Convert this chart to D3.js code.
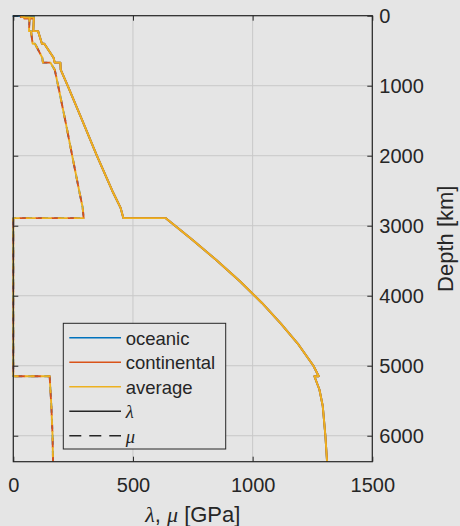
<!DOCTYPE html>
<html>
<head>
<meta charset="utf-8">
<script src="https://cdn.jsdelivr.net/npm/d3@7"></script>
<style>
  html, body { margin: 0; padding: 0; background: #e5e5e5; }
  svg { display: block; }
  text { font-family: "Liberation Sans", Arial, Helvetica, sans-serif; fill: #262626; }
  .greek { font-family: "Liberation Serif", "Times New Roman", serif; font-style: italic; }
</style>
</head>
<body>
<svg id="chart" width="460" height="526"></svg>
<script>
// Lamé parameters λ and μ versus depth for three crustal models.

const xTicks = [0, 500, 1000, 1500];
const yTicks = [0, 1000, 2000, 3000, 4000, 5000, 6000];

const modelNames = ["oceanic", "continental", "average"];
const modelColors = ["#0072BD", "#D95319", "#EDB120"];

// Crust and lithosphere top, per model: depth [km], λ [GPa], μ [GPa]
const oceanicDepth  = [0,   3,   3,    10,   10];
const oceanicLambda = [2.2, 2.2, 43.1, 43.1, 86.0];
const oceanicMu     = [0,   0,   39.7, 39.7, 68.2];

const continentalDepth  = [0,    20,   20,   40,   40];
const continentalLambda = [31.0, 31.0, 45.9, 45.9, 86.0];
const continentalMu     = [33.1, 33.1, 44.1, 44.1, 68.2];

const averageDepth  = [0,    15,   15,   24.4, 24.4];
const averageLambda = [34.2, 34.2, 45.9, 45.9, 86.0];
const averageMu     = [26.6, 26.6, 44.1, 44.1, 68.2];

// Mantle and core, shared by all models
const deepDepth  = [80,   220,  220,   400,   400,   600,   670,   670,   771,   1000,  1500,  2000,  2500,  2741,  2891,  2891, 3200, 3490, 3800, 4100, 4400, 4700, 5000, 5150, 5150, 5340, 5576, 6000, 6371];
const deepLambda = [85.2, 83.3, 103.5, 119.8, 129.5, 168.3, 173.0, 196.7, 198.0, 227.1, 288.5, 349.1, 413.4, 447.9, 459.8, 636,  748,  848,  949,  1038, 1118, 1192, 1254, 1276, 1258, 1279, 1293, 1304, 1311];
const deepMu     = [67.4, 65.6, 74.1,  80.6,  90.6,  121.0, 123.9, 154.8, 173.1, 187.4, 217.4, 246.1, 275.2, 289.9, 293.8, 0,    0,    0,    0,    0,    0,    0,    0,    0,    152,  155,  159,  164,  166];

const crustDepth  = [oceanicDepth, continentalDepth, averageDepth];
const crustLambda = [oceanicLambda, continentalLambda, averageLambda];
const crustMu     = [oceanicMu, continentalMu, averageMu];

const models = modelNames.map((name, i) => {
  const depth = crustDepth[i].concat(deepDepth);
  const lam = crustLambda[i].concat(deepLambda);
  const mu = crustMu[i].concat(deepMu);
  return {
    name, color: modelColors[i],
    lambda: depth.map((d, k) => ({ depth: d, v: lam[k] })),
    mu: depth.map((d, k) => ({ depth: d, v: mu[k] }))
  };
});

const svg = d3.select("#chart");
const plot = { left: 13.3, right: 372.3, top: 15.7, bottom: 461.7 };
const x = d3.scaleLinear().domain([0, 1500]).range([plot.left, plot.right]);
const y = d3.scaleLinear().domain([0, 6371]).range([plot.top, plot.bottom]);
const ink = "#262626";
const fmt = d3.format("d");

// Axes background
svg.append("rect")
  .attr("x", plot.left).attr("y", plot.top)
  .attr("width", plot.right - plot.left).attr("height", plot.bottom - plot.top)
  .attr("fill", "#e5e5e5");

// Grid
const grid = svg.append("g").attr("stroke", "#c8c8c8").attr("stroke-width", 1);
grid.selectAll(".gx").data(xTicks).join("line")
  .attr("x1", d => x(d)).attr("x2", d => x(d))
  .attr("y1", plot.top).attr("y2", plot.bottom);
grid.selectAll(".gy").data(yTicks).join("line")
  .attr("x1", plot.left).attr("x2", plot.right)
  .attr("y1", d => y(d)).attr("y2", d => y(d));

// Curves
const line = d3.line().x(d => x(d.v)).y(d => y(d.depth));
const curves = svg.append("g").attr("fill", "none").attr("stroke-width", 1.9)
  .attr("stroke-linejoin", "round");
models.forEach((m, i) => {
  curves.append("path").datum(m.lambda)
    .attr("d", line).attr("stroke", m.color);
  curves.append("path").datum(m.mu)
    .attr("d", line).attr("stroke", m.color)
    .attr("stroke-dasharray", "10,6")
    .attr("stroke-dashoffset", i * 5);
});

// Axes with inward ticks
const bottomAxis = d3.axisBottom(x).tickValues(xTicks).tickFormat(fmt).tickSizeInner(-5).tickSizeOuter(0).tickPadding(16.5);
const rightAxis = d3.axisRight(y).tickValues(yTicks).tickFormat(fmt).tickSizeInner(-5).tickSizeOuter(0).tickPadding(7);
const topAxis = d3.axisTop(x).tickValues(xTicks).tickSizeInner(-5).tickSizeOuter(0).tickFormat("");
const leftAxis = d3.axisLeft(y).tickValues(yTicks).tickSizeInner(-5).tickSizeOuter(0).tickFormat("");

function styleAxis(g) {
  g.select(".domain").remove();
  g.selectAll(".tick line").attr("stroke", ink).attr("stroke-width", 1);
  g.selectAll(".tick text").attr("fill", ink)
    .style("font-family", "'Liberation Sans', Arial, sans-serif").style("font-size", "20px");
}
svg.append("g").attr("transform", `translate(0,${plot.bottom})`).call(bottomAxis).call(styleAxis);
svg.append("g").attr("transform", `translate(${plot.right},0)`).call(rightAxis).call(styleAxis)
  .selectAll(".tick text").attr("dy", "0.34em");
svg.append("g").attr("transform", `translate(0,${plot.top})`).call(topAxis).call(styleAxis);
svg.append("g").attr("transform", `translate(${plot.left},0)`).call(leftAxis).call(styleAxis);

// Box
svg.append("rect")
  .attr("x", plot.left).attr("y", plot.top)
  .attr("width", plot.right - plot.left).attr("height", plot.bottom - plot.top)
  .attr("fill", "none").attr("stroke", ink).attr("stroke-width", 1.2);

// Axis labels
const xl = svg.append("text")
  .attr("x", (plot.left + plot.right) / 2).attr("y", 521.5)
  .attr("text-anchor", "middle").style("font-size", "22px");
xl.append("tspan").attr("class", "greek").text("λ");
xl.append("tspan").text(", ");
xl.append("tspan").attr("class", "greek").text("μ");
xl.append("tspan").text(" [GPa]");

svg.append("text")
  .attr("transform", `translate(453,${(plot.top + plot.bottom) / 2}) rotate(-90)`)
  .attr("text-anchor", "middle").style("font-size", "22px")
  .text("Depth [km]");

// Legend
const legend = svg.append("g");
legend.append("rect")
  .attr("x", 63.3).attr("y", 323.3).attr("width", 162.4).attr("height", 125.7)
  .attr("fill", "#e5e5e5").attr("stroke", ink).attr("stroke-width", 1);
const entries = [
  { label: "oceanic", color: modelColors[0], dash: null, greek: false },
  { label: "continental", color: modelColors[1], dash: null, greek: false },
  { label: "average", color: modelColors[2], dash: null, greek: false },
  { label: "λ", color: ink, dash: null, greek: true },
  { label: "μ", color: ink, dash: "12,8", greek: true }
];
entries.forEach((e, i) => {
  const ly = 337.7 + i * 24.5;
  legend.append("line")
    .attr("x1", 69.3).attr("x2", 121).attr("y1", ly).attr("y2", ly)
    .attr("stroke", e.color).attr("stroke-width", 1.6)
    .attr("stroke-dasharray", e.dash);
  legend.append("text")
    .attr("x", 125.7).attr("y", ly + 6.8)
    .attr("class", e.greek ? "greek" : null)
    .style("font-size", "18.5px")
    .text(e.label);
});
</script>
</body>
</html>
